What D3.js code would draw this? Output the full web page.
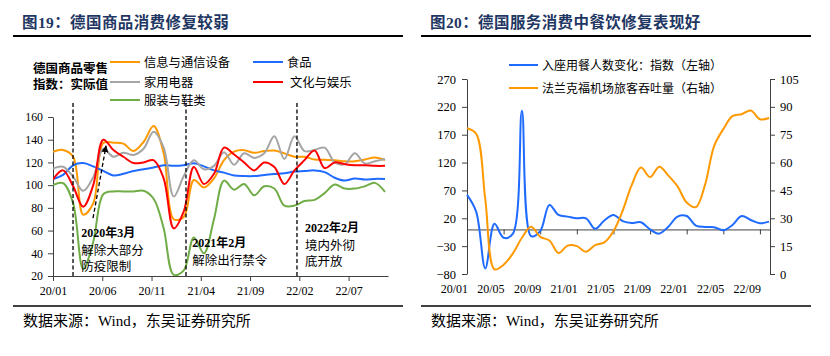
<!DOCTYPE html>
<html><head><meta charset="utf-8">
<script src="https://cdn.jsdelivr.net/npm/d3@7/dist/d3.min.js"></script>
<style>
body{margin:0;background:#fff;}
svg text{font-family:"Liberation Serif","Noto Sans CJK SC",serif;fill:#000;}
</style></head><body>
<svg id="c" width="830" height="356"></svg>
<script>
// ---------- DATA ----------
// Left chart: monthly, 20/01 .. 22/10 (34 months)
const leftTickLabels = ["20/01","20/06","20/11","21/04","21/09","22/02","22/07"];
const leftTickIdx = [0,5,10,15,20,25,30];
const leftYTicks = [20,40,60,80,100,120,140,160];
const leftSeriesNames = ["信息与通信设备","食品","家用电器","文化与娱乐","服装与鞋类"];
const ictValues = [129.4,131,125,74,84,137,137.3,136.5,130,138,152,128,70,72,104.5,98,106,122,129.5,130.8,128.5,130,130.5,128,125,125,122.5,122.3,122,121,121,122.5,124.4,122];
const foodValues = [105.4,109,117.5,119.5,116.5,112.5,108.5,110,112.5,114,115.5,117.5,117,117.5,119.2,116.5,113,111,108.5,108,108,109,109.8,110.5,112,112.4,113,111.5,106.5,104,105.9,105,105.5,105.4];
const applianceValues = [114.7,116.2,107.5,95,107,132,125,128.5,126.5,132,147,133,90,108,122,114,117,129,118,128,124,128,143,123,143,130,131,133,120,118.5,128,119,121,123];
const cultureValues = [105,113,99,81,100,140,131,125,119.5,120,122,106,62,77,116,101,110,133,127,120,113,120,116,101,113,122,130.5,115,120,118.5,117.5,117.5,117,117];
const clothingValues = [100,101.8,84,26,50,92,94.5,94.4,94.5,95,88,62,21,25,54,40,70,104,96,101,91,99,97,82,82,86,87,93,100.5,97,97,99,102,94];
// annotation events (month index) and texts
const eventIdx = [1.99,13.22,24.25];
const eventTitles = ["2020年3月","2021年2月","2022年2月"];
const eventNotes = [["解除大部分","防疫限制"],["解除出行禁令"],["境内外彻","底开放"]];

// Right chart: monthly, 20/01 .. 22/10 (34 months)
const rightTickLabels = ["20/01","20/05","20/09","21/01","21/05","21/09","22/01","22/05","22/09"];
const rightTickIdx = [0,4,8,12,16,20,24,28,32];
const rightYTicksL = [-80,-30,20,70,120,170,220,270];
const rightYTicksR = [0,15,30,45,60,75,90,105];
const rightSeriesNames = ["入座用餐人数变化：指数（左轴）","法兰克福机场旅客吞吐量（右轴）"];
const dinerValues = [62,32,-70,10,-15,-8,213,-12,-3,44,26,23,20,20,1,16,26,15,11.5,13,0,-7.5,5,23,24,7,4.5,4,-1.5,8,24,17,11,14];
const airportValues = [78.5,75.5,40,2.5,5,11,19.5,25.5,20,18,11.3,15.3,15,12,15.5,17,23,34,48,57.3,52.2,57.7,53,47.2,38.5,36,48,69,78,85,86,88,83.3,84];

// ---------- DRAW ----------
const svg = d3.select("#c");
const CN = '"Noto Sans CJK SC",sans-serif';
const SANS = '"Liberation Sans","Noto Sans CJK SC",sans-serif';
const titleColor = "#1f3763";
const axisColor = "#404040";
const curve = d3.curveCatmullRom.alpha(0.5);

function header(x0, x1, title){
  svg.append("text").attr("x", x0+9).attr("y", 28).attr("font-family", CN)
    .attr("font-weight", 700).attr("font-size", 15.5).style("fill", titleColor)
    .attr("letter-spacing", 0.4).text(title);
  svg.append("line").attr("x1", x0).attr("x2", x1).attr("y1", 36).attr("y2", 36)
    .attr("stroke", "#000").attr("stroke-width", 2);
  svg.append("line").attr("x1", x0).attr("x2", x1).attr("y1", 306).attr("y2", 306)
    .attr("stroke", "#000").attr("stroke-width", 1.5);
  const s = svg.append("text").attr("x", x0+10).attr("y", 326).attr("font-size", 15);
  s.append("tspan").attr("font-family", CN).text("数据来源：");
  s.append("tspan").attr("font-family", '"Liberation Serif",serif').text("Wind");
  s.append("tspan").attr("font-family", CN).text("，东吴证券研究所");
}
function styleAxis(g){
  g.selectAll("path,line").attr("stroke", axisColor).attr("stroke-width", 1);
  g.selectAll("text").style("fill", "#000");
}

// ===== LEFT CHART =====
header(13, 403, "图19：德国商品消费修复较弱");
const lx = d3.scaleLinear().domain([0, 33]).range([53, 385]);
const lxAxis = d3.scaleLinear().domain([0, 34]).range([53, 388]);
const ly = d3.scaleLinear().domain([20, 160]).range([276, 117]);

svg.append("clipPath").attr("id", "clipL").append("rect")
  .attr("x", 53).attr("y", 95).attr("width", 340).attr("height", 181);

const gy = svg.append("g").attr("transform", "translate(53,0)")
  .call(d3.axisLeft(ly).tickValues(leftYTicks).tickSize(5).tickSizeOuter(0).tickPadding(5));
gy.selectAll("text").attr("font-size", 11.8).attr("font-family", '"Liberation Serif",serif');
styleAxis(gy);

const gx = svg.append("g").attr("transform", "translate(0,276)")
  .call(d3.axisBottom(lxAxis).tickValues(leftTickIdx).tickSize(5).tickSizeOuter(0)
    .tickFormat((d,i)=>leftTickLabels[i]).tickPadding(5));
gx.selectAll("text").attr("font-size", 12).attr("font-family", '"Liberation Serif",serif');
styleAxis(gx);

const leftColors = ["#FF9900","#1F6BFF","#A5A5A5","#FF0000","#70AD47"];
const leftData = [ictValues, foodValues, applianceValues, cultureValues, clothingValues];
const plotL = svg.append("g").attr("clip-path", "url(#clipL)");
const lineL = d3.line().x((d,i)=>lx(i)).y(d=>ly(d)).curve(curve);
leftData.forEach((arr, k)=>{
  plotL.append("path").datum(arr).attr("d", lineL).attr("fill", "none")
    .attr("stroke", leftColors[k]).attr("stroke-width", 2);
});

// event dashed lines
eventIdx.forEach(v=>{
  svg.append("line").attr("x1", lx(v)).attr("x2", lx(v)).attr("y1", ly(20)).attr("y2", ly(173))
    .attr("stroke", "#000").attr("stroke-width", 1.3).attr("stroke-dasharray", "4,2.5");
});
// arrow
svg.append("defs").append("marker").attr("id", "arr").attr("viewBox", "0 0 10 10")
  .attr("refX", 9).attr("refY", 5).attr("markerWidth", 7).attr("markerHeight", 7)
  .attr("orient", "auto").attr("markerUnits", "userSpaceOnUse")
  .append("path").attr("d", "M0,0 L10,5 L0,10 z").attr("fill", "#000");
svg.append("line").attr("x1", lx(3.98)).attr("y1", ly(71)).attr("x2", lx(5.27)).attr("y2", ly(134.5))
  .attr("stroke", "#000").attr("stroke-width", 1.3).attr("stroke-dasharray", "4,2.5")
  .attr("marker-end", "url(#arr)");

// event texts
const evPos = [[2.8, 54.3], [13.85, 45.5], [25.05, 58.5]];
evPos.forEach((p, k)=>{
  const x = lx(p[0]), y = ly(p[1]);
  svg.append("text").attr("x", x).attr("y", y).attr("font-family", SANS).attr("font-weight", 700)
    .attr("font-size", 12).text(eventTitles[k]);
  eventNotes[k].forEach((t, j)=>{
    svg.append("text").attr("x", x).attr("y", y + 17.5 + j*16.5).attr("font-family", CN)
      .attr("font-size", 12.5).text(t);
  });
});

// side label
svg.append("text").attr("x", 33).attr("y", 73).attr("font-family", CN).attr("font-weight", 700)
  .attr("font-size", 12.5).text("德国商品零售");
svg.append("text").attr("x", 33).attr("y", 89).attr("font-family", CN).attr("font-weight", 700)
  .attr("font-size", 12.5).text("指数：实际值");

// legend left
const legL = [[110,62],[253,62],[110,82],[253,82],[110,100]];
leftSeriesNames.forEach((n, k)=>{
  const [x, y] = legL[k];
  svg.append("line").attr("x1", x).attr("x2", x+30).attr("y1", y).attr("y2", y)
    .attr("stroke", leftColors[k]).attr("stroke-width", 2);
  svg.append("text").attr("x", x + (k===3 ? 37 : 34)).attr("y", y+4.5).attr("font-family", CN)
    .attr("font-size", 12.3).text(n);
});

// ===== RIGHT CHART =====
header(421, 811, "图20：德国服务消费中餐饮修复表现好");
const rx = d3.scaleLinear().domain([0, 33.1]).range([467, 770]);
const ryL = d3.scaleLinear().domain([-80, 270]).range([274, 79]);
const ryR = d3.scaleLinear().domain([0, 105]).range([274, 79]);

const gl = svg.append("g").attr("transform", "translate(467,0)")
  .call(d3.axisLeft(ryL).tickValues(rightYTicksL).tickSize(5).tickSizeOuter(0).tickPadding(6));
gl.selectAll("text").attr("font-size", 12.5).attr("font-family", '"Liberation Serif",serif');
styleAxis(gl);
const gr = svg.append("g").attr("transform", "translate(770,0)")
  .call(d3.axisRight(ryR).tickValues(rightYTicksR).tickSize(5).tickSizeOuter(0).tickPadding(5));
gr.selectAll("text").attr("font-size", 12.5).attr("font-family", '"Liberation Serif",serif');
styleAxis(gr);
const gz = svg.append("g").attr("transform", `translate(0,${ryL(0)})`)
  .call(d3.axisBottom(rx).tickValues(rightTickIdx).tickSize(5).tickSizeOuter(0).tickFormat(""));
styleAxis(gz);
rightTickIdx.forEach((v, i)=>{
  svg.append("text").attr("x", rx(v)+1).attr("y", 293).attr("text-anchor", "end")
    .attr("font-size", 12).attr("font-family", '"Liberation Serif",serif').text(rightTickLabels[i]);
});

const rightColors = ["#1F6BFF","#FF9900"];
svg.append("path").datum(dinerValues)
  .attr("d", d3.line().x((d,i)=>rx(i)).y(d=>ryL(d)).curve(curve))
  .attr("fill", "none").attr("stroke", rightColors[0]).attr("stroke-width", 2);
svg.append("path").datum(airportValues)
  .attr("d", d3.line().x((d,i)=>rx(i)).y(d=>ryR(d)).curve(curve))
  .attr("fill", "none").attr("stroke", rightColors[1]).attr("stroke-width", 2);

const legR = [[509,65],[509,88]];
rightSeriesNames.forEach((n, k)=>{
  const [x, y] = legR[k];
  svg.append("line").attr("x1", x).attr("x2", x+29).attr("y1", y).attr("y2", y)
    .attr("stroke", rightColors[k]).attr("stroke-width", 2);
  svg.append("text").attr("x", x+33).attr("y", y+4.5).attr("font-family", CN)
    .attr("font-size", 12).text(n);
});
</script>
</body></html>
